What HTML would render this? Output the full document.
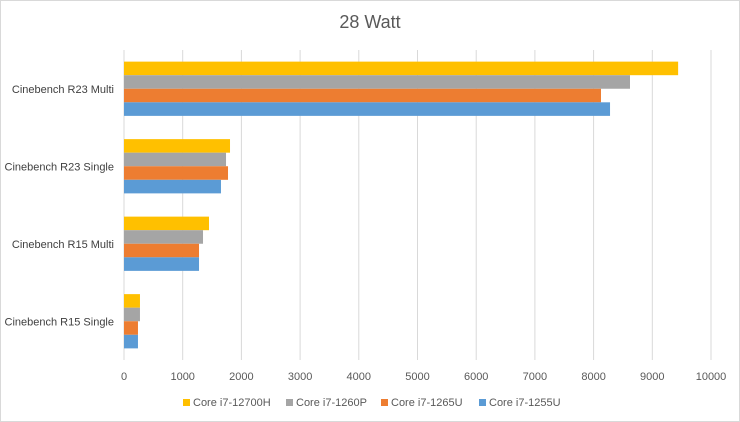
<!DOCTYPE html>
<html><head><meta charset="utf-8"><style>
body{margin:0;background:#fff;}
svg{display:block;font-family:"Liberation Sans",sans-serif;}
</style></head><body>
<svg id="c" width="740" height="422">
<rect x="0.5" y="0.5" width="739" height="421" fill="#fff" stroke="#d9d9d9"/>
<text x="370" y="28" text-anchor="middle" font-size="18" fill="#595959">28 Watt</text>
<g id="grid"></g><g id="bars"></g><g id="labels"></g><g id="legend"></g>
</svg>
<script>
const categories=["Cinebench R23 Multi","Cinebench R23 Single","Cinebench R15 Multi","Cinebench R15 Single"];
const seriesNames=["Core i7-12700H","Core i7-1260P","Core i7-1265U","Core i7-1255U"];
const seriesColors=["#ffc000","#a5a5a5","#ed7d31","#5b9bd5"];
const s12700H=[9440,1806,1448,272];
const s1260P=[8620,1738,1346,272];
const s1265U=[8126,1772,1278,238];
const s1255U=[8280,1652,1278,238];
const ticks=[0,1000,2000,3000,4000,5000,6000,7000,8000,9000,10000];
const series=[s12700H,s1260P,s1265U,s1255U];
const NS="http://www.w3.org/2000/svg";
const x0=124,x1=711,plotTop=50,plotBot=360,xMax=10000;
const xs=v=>x0+(x1-x0)*v/xMax;
const band=(plotBot-plotTop)/categories.length;
function mk(tag,attrs,parent){const e=document.createElementNS(NS,tag);for(const k in attrs)e.setAttribute(k,attrs[k]);document.getElementById(parent).appendChild(e);return e;}
ticks.forEach(t=>{
 const l=mk('line',{x1:xs(t),x2:xs(t),y1:plotTop,y2:plotBot,stroke:'#d9d9d9'},'grid');
 
 
 const tx=mk('text',{x:xs(t),y:380,'text-anchor':'middle','font-size':11,fill:'#595959'},'labels');
 tx.textContent=t;
 
 
});
const bh=band*0.7/4;
categories.forEach((c,i)=>{
 const cy=plotTop+band*(i+0.5);
 const tx=mk('text',{x:114,y:cy+4,'text-anchor':'end','font-size':11,fill:'#404040'},'labels');
 tx.textContent=c;
 
 
 series.forEach((s,j)=>{
  const r=mk('rect',{x:xs(0),y:cy-2*bh+j*bh,width:xs(s[i])-xs(0),height:bh,fill:seriesColors[j]},'bars');
  
  
 });
});
const lx=[183,286,381,479];
seriesNames.forEach((n,j)=>{
 const r=mk('rect',{x:lx[j],y:399,width:7,height:7,fill:seriesColors[j]},'legend');
 
 
 const t=mk('text',{x:lx[j]+10,y:406,'font-size':11,fill:'#595959'},'legend');
 t.textContent=n;
 
 
});
</script>
</body></html>
